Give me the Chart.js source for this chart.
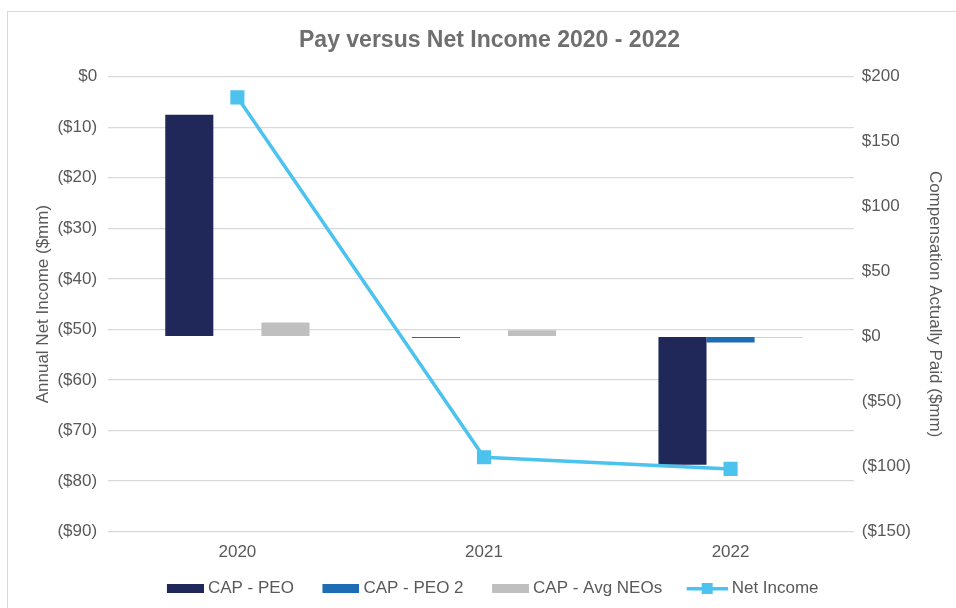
<!DOCTYPE html>
<html>
<head>
<meta charset="utf-8">
<script src="https://cdn.jsdelivr.net/npm/chart.js@4"></script>
<style>
    html, body { margin: 0; padding: 0; background: #fff; overflow: hidden; }
    #frame {
        position: absolute; left: 7px; top: 11px;
        width: 968px; height: 612px;
        border: 1px solid #d9d9d9; background: #fff;
    }
</style>
</head>
<body>
<div id="frame"><canvas id="payChart" width="968" height="612"></canvas></div>
<script>
// Chart data
const years = ['2020', '2021', '2022'];
const capPeo = [170.6, -0.8, -98.5];
const capPeo2 = [null, null, -4.5];
const capAvgNeos = [10.8, 4.9, -0.8];
const netIncome = [-4.1, -75.3, -77.6];

const leftTicks = [0, -10, -20, -30, -40, -50, -60, -70, -80, -90];
const rightTicks = [200, 150, 100, 50, 0, -50, -100, -150];

const colors = {
    peo: '#1f2859',
    peo2: '#1c6db3',
    neos: '#bfbfbf',
    net: '#4bc3ee',
    text: '#595959',
    grid: '#d9d9d9'
};

const FONT = "'Liberation Sans', Arial, sans-serif";

function money(v) {
    return v === 0 ? '$0' : (v < 0 ? '($' + Math.abs(v) + ')' : '$' + v);
}

// legend markers: drawn at the right end of a wider transparent canvas
// so the gap before the text is small and the gap between items is wide
const MARK_W = 56;

function boxMarker(color) {
    const c = document.createElement('canvas');
    c.width = MARK_W; c.height = 9;
    const g = c.getContext('2d');
    g.fillStyle = color;
    g.fillRect(MARK_W - 37, 0, 37, 9);
    return c;
}

function lineMarker(color) {
    const c = document.createElement('canvas');
    c.width = MARK_W; c.height = 11;
    const g = c.getContext('2d');
    g.fillStyle = color;
    g.fillRect(MARK_W - 41, 4, 41, 3.5);
    g.fillRect(MARK_W - 26, 0, 11, 11);
    return c;
}

const markers = [boxMarker(colors.peo), boxMarker(colors.peo2), boxMarker(colors.neos), lineMarker(colors.net)];

// nudge the legend row a little to the left after layout
const legendShift = {
    id: 'legendShift',
    afterLayout(chart) {
        chart.legend.left -= 4;
        chart.legend.right -= 4;
    }
};

new Chart(document.getElementById('payChart'), {
    plugins: [legendShift],
    data: {
        labels: years,
        datasets: [
            {
                type: 'bar',
                label: 'CAP - PEO',
                data: capPeo,
                backgroundColor: colors.peo,
                yAxisID: 'y1',
                order: 1
            },
            {
                type: 'bar',
                label: 'CAP - PEO 2',
                data: capPeo2,
                backgroundColor: colors.peo2,
                yAxisID: 'y1',
                order: 1
            },
            {
                type: 'bar',
                label: 'CAP - Avg NEOs',
                data: capAvgNeos,
                backgroundColor: colors.neos,
                yAxisID: 'y1',
                order: 1
            },
            {
                type: 'line',
                label: 'Net Income',
                data: netIncome,
                borderColor: colors.net,
                backgroundColor: colors.net,
                borderWidth: 3.5,
                pointStyle: 'rect',
                pointRadius: 7.5,
                pointHoverRadius: 7.5,
                tension: 0,
                yAxisID: 'y',
                order: 0
            }
        ]
    },
    options: {
        responsive: false,
        animation: false,
        layout: {
            padding: { left: 25, right: 30, top: 0, bottom: 17 }
        },
        datasets: {
            bar: {
                categoryPercentage: 0.585,
                barPercentage: 1.0,
                borderWidth: 0
            }
        },
        plugins: {
            title: {
                display: true,
                text: 'Pay versus Net Income 2020 - 2022',
                color: '#6f6f6f',
                font: { family: FONT, size: 23, weight: 'bold' },
                padding: { top: 15, bottom: 22 }
            },
            legend: {
                position: 'bottom',
                labels: {
                    usePointStyle: true,
                    pointStyleWidth: 47,
                    boxHeight: 9,
                    padding: 14,
                    color: colors.text,
                    font: { family: FONT, size: 17 },
                    generateLabels: function (chart) {
                        return chart.data.datasets.map((ds, i) => ({
                            text: ds.label,
                            pointStyle: markers[i],
                            fillStyle: ds.backgroundColor,
                            strokeStyle: ds.backgroundColor,
                            lineWidth: 0,
                            fontColor: colors.text,
                            hidden: false,
                            datasetIndex: i
                        }));
                    }
                }
            },
            tooltip: { enabled: false }
        },
        scales: {
            x: {
                offset: true,
                grid: { display: false },
                border: { display: false },
                ticks: {
                    color: colors.text,
                    padding: 3,
                    font: { family: FONT, size: 17 }
                }
            },
            y: {
                position: 'left',
                min: -90,
                max: 0,
                afterBuildTicks: function (axis) {
                    axis.ticks = leftTicks.map(v => ({ value: v }));
                },
                grid: { color: colors.grid, lineWidth: 1.3, drawTicks: true, tickLength: 6 },
                border: { display: false },
                ticks: {
                    color: colors.text,
                    padding: 11,
                    font: { family: FONT, size: 17 },
                    callback: v => money(v)
                },
                title: {
                    display: true,
                    text: 'Annual Net Income ($mm)',
                    color: colors.text,
                    font: { family: FONT, size: 17 },
                    padding: { top: 0, bottom: -7 }
                }
            },
            y1: {
                position: 'right',
                min: -150,
                max: 200,
                afterBuildTicks: function (axis) {
                    axis.ticks = rightTicks.map(v => ({ value: v }));
                },
                grid: { drawOnChartArea: false, drawTicks: false },
                border: { display: false },
                ticks: {
                    color: colors.text,
                    padding: 8,
                    font: { family: FONT, size: 17 },
                    callback: v => money(v)
                },
                title: {
                    display: true,
                    text: 'Compensation Actually Paid ($mm)',
                    color: colors.text,
                    font: { family: FONT, size: 17 },
                    padding: { top: 1, bottom: 5.6 }
                }
            }
        }
    }
});
</script>
</body>
</html>
